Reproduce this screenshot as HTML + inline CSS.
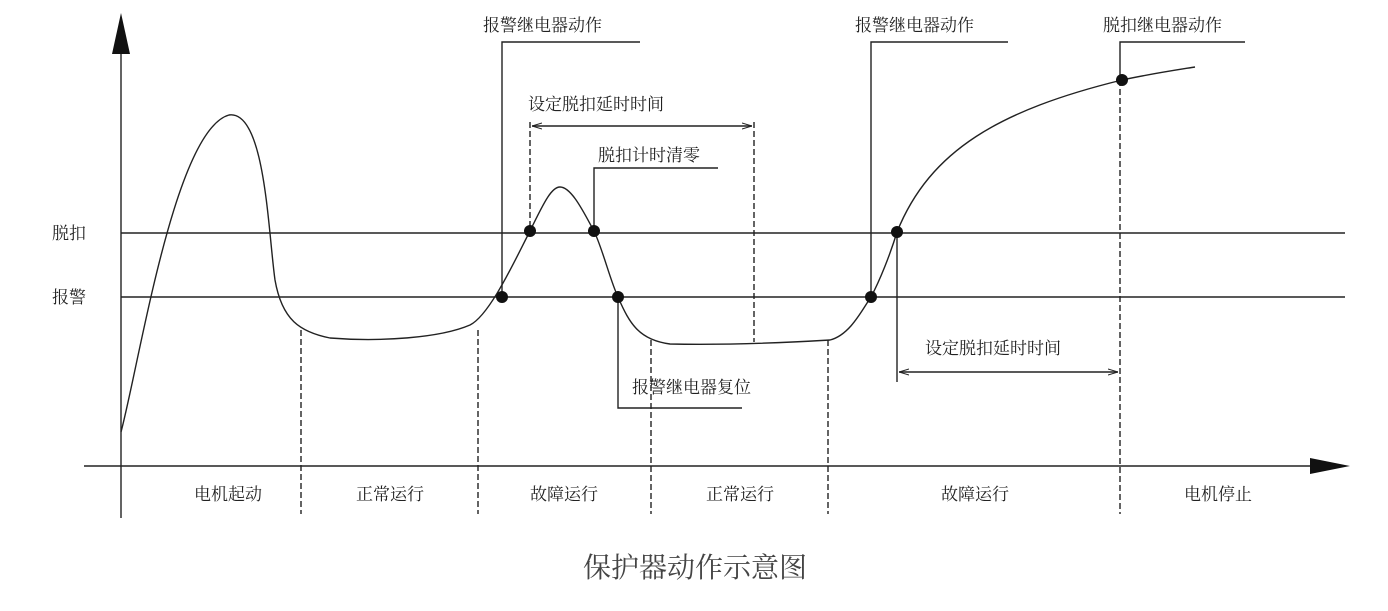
<!DOCTYPE html>
<html><head><meta charset="utf-8"><style>
body{margin:0;background:#fff;}
svg text{font-family:"Liberation Sans","Noto Serif CJK SC","Noto Sans CJK SC",serif;fill:#222;}
</style></head><body>
<svg width="1388" height="606" viewBox="0 0 1388 606" xmlns="http://www.w3.org/2000/svg">
<defs>
<marker id="a" markerWidth="10" markerHeight="8" refX="10" refY="4" orient="auto-start-reverse" markerUnits="userSpaceOnUse"><path d="M0,1 L10,4 L0,7" fill="none" stroke="#222" stroke-width="1"/></marker>
</defs>
<g stroke="#222" stroke-width="1.4" fill="none">
<!-- axes -->
<line x1="121" y1="40" x2="121" y2="518"/>
<line x1="84" y1="466" x2="1315" y2="466"/>
<line x1="121" y1="233" x2="1345" y2="233"/>
<line x1="121" y1="297" x2="1345" y2="297"/>
<!-- curve -->
<path d="M121,432 C140,360 175,130 229,115 C265,110 268,230 275,280 C282,320 300,332 330,338 C380,342 440,338 470,325 C490,315 515,260 530,231 C545,200 552,187 560,187 C572,187 585,215 594,231 C603,250 610,280 618,297 C630,325 640,340 670,344 C720,345 780,343 830,340 C850,335 862,310 871,297 C880,280 890,255 897,232 C930,150 1000,110 1122,80 C1150,74 1170,71 1195,67"/>
<!-- leaders -->
<polyline points="502,297 502,42 640,42"/>
<polyline points="594,231 594,168 718,168"/>
<polyline points="618,297 618,408 742,408"/>
<polyline points="871,297 871,42 1008,42"/>
<polyline points="1120,80 1120,42 1245,42"/>
<line x1="897" y1="232" x2="897" y2="382"/>
<line x1="532" y1="126" x2="752" y2="126" marker-start="url(#a)" marker-end="url(#a)"/>
<line x1="899" y1="372" x2="1118" y2="372" marker-start="url(#a)" marker-end="url(#a)"/>
</g>
<g stroke="#222" stroke-width="1.4" stroke-dasharray="6,3" fill="none">
<line x1="301" y1="330" x2="301" y2="514"/>
<line x1="478" y1="330" x2="478" y2="514"/>
<line x1="651" y1="340" x2="651" y2="514"/>
<line x1="828" y1="340" x2="828" y2="514"/>
<line x1="1120" y1="80" x2="1120" y2="514"/>
<line x1="530" y1="122" x2="530" y2="231"/>
<line x1="754" y1="122" x2="754" y2="342"/>
</g>
<polygon points="121,13 112,54 130,54" fill="#111"/>
<polygon points="1350,466 1310,458 1310,474" fill="#111"/>
<g fill="#111">
<circle cx="502" cy="297" r="6"/><circle cx="530" cy="231" r="6"/><circle cx="594" cy="231" r="6"/><circle cx="618" cy="297" r="6"/>
<circle cx="871" cy="297" r="6"/><circle cx="897" cy="232" r="6"/><circle cx="1122" cy="80" r="6"/>
</g>
<g font-size="17">
<text x="52" y="239">脱扣</text>
<text x="52" y="303">报警</text>
<text x="483" y="31">报警继电器动作</text>
<text x="528" y="110">设定脱扣延时时间</text>
<text x="598" y="161">脱扣计时清零</text>
<text x="632" y="393">报警继电器复位</text>
<text x="855" y="31">报警继电器动作</text>
<text x="1103" y="31">脱扣继电器动作</text>
<text x="925" y="354">设定脱扣延时时间</text>
<g text-anchor="middle">
<text x="228" y="500">电机起动</text>
<text x="390" y="500">正常运行</text>
<text x="564" y="500">故障运行</text>
<text x="740" y="500">正常运行</text>
<text x="975" y="500">故障运行</text>
<text x="1218" y="500">电机停止</text>
</g>
</g>
<text x="695" y="577" font-size="28" text-anchor="middle" style="fill:#444">保护器动作示意图</text>
</svg>
</body></html>
